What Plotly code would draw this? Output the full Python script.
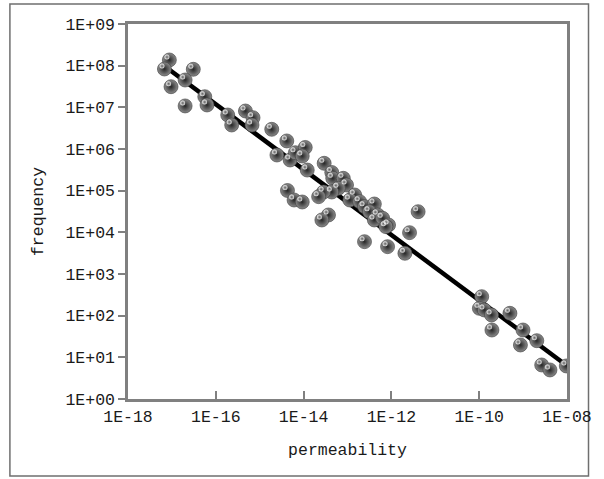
import plotly.graph_objects as go

# permeability (x) and frequency (y) of the measured points
permeability = [
    8.75e-18, 6.76e-18, 3.07e-17, 2.0e-17, 9.55e-18, 2.0e-17, 5.61e-17, 6.31e-17,
    1.87e-16, 2.30e-16, 4.73e-16, 7.05e-16, 6.68e-16, 1.88e-15, 4.14e-15, 2.47e-15,
    4.93e-15, 6.49e-15, 1.09e-14, 9.31e-15, 1.21e-14, 2.94e-14, 4.38e-14, 4.61e-14,
    8.02e-14, 9.51e-14, 6.18e-14, 4.38e-14, 2.85e-14, 2.20e-14, 4.29e-15, 6.07e-15,
    9.31e-15, 1.46e-13, 1.13e-13, 1.89e-13, 2.44e-13, 4.09e-13, 3.16e-13, 4.88e-13,
    4.09e-13, 6.31e-13, 8.61e-13, 7.48e-13, 3.69e-14, 2.61e-14, 2.44e-13, 8.18e-13,
    2.03e-12, 2.59e-12, 4.06e-12,
    1.14e-10, 1.01e-10, 1.31e-10, 1.91e-10, 5.01e-10, 1.95e-10, 9.95e-10, 8.69e-10,
    2.05e-09, 2.65e-09, 4.09e-09, 9.64e-09,
]
frequency = [
    1.37e8, 8.32e7, 8.18e7, 4.53e7, 3.13e7, 1.08e7, 1.80e7, 1.14e7,
    6.55e6, 3.77e6, 8.17e6, 5.64e6, 3.77e6, 2.97e6, 1.56e6, 7.18e5,
    5.45e5, 8.15e5, 1.09e6, 6.79e5, 3.13e5, 4.54e5, 2.73e5, 1.98e5,
    1.98e5, 1.37e5, 1.14e5, 9.29e4, 9.29e4, 7.18e4, 1.01e5, 5.97e4,
    5.35e4, 7.87e4, 5.97e4, 5.45e4, 4.13e4, 4.79e4, 3.13e4, 2.61e4,
    1.98e4, 2.17e4, 1.50e4, 1.37e4, 2.61e4, 1.98e4, 5.97e3, 4.53e3,
    3.14e3, 9.82e3, 3.13e4,
    286, 150, 137, 104, 114, 45.3, 45.3, 19.8,
    25.1, 6.56, 4.98, 6.21,
]

# fitted power-law line end points
fit_x = [7.9e-18, 1.0e-08]
fit_y = [8.7e7, 6.3]

x_tickvals = [1e-18, 1e-16, 1e-14, 1e-12, 1e-10, 1e-08]
x_ticktext = ["1E-18", "1E-16", "1E-14", "1E-12", "1E-10", "1E-08"]
y_tickvals = [1e0, 1e1, 1e2, 1e3, 1e4, 1e5, 1e6, 1e7, 1e8, 1e9]
y_ticktext = ["1E+00", "1E+01", "1E+02", "1E+03", "1E+04", "1E+05",
              "1E+06", "1E+07", "1E+08", "1E+09"]

FONT = "Liberation Mono, Courier New, monospace"
AXIS_GREY = "#808080"
TEXT = "#1a1a1a"

# sphere highlight: shift a small bright dot up-left of each sphere centre
# (about 3 px at this scale: 44.6 px per x-decade, 41.7 px per y-decade)
hx = [v * 10 ** (-2.5 / 44.6) for v in permeability]
hy = [v * 10 ** (3.0 / 41.7) for v in frequency]

fig = go.Figure()
fig.add_trace(go.Scatter(
    x=fit_x, y=fit_y, mode="lines",
    line=dict(color="black", width=4.5),
    showlegend=False, hoverinfo="skip",
))
fig.add_trace(go.Scatter(
    x=permeability, y=frequency, mode="markers",
    marker=dict(size=14, color="#8c8c8c",
                gradient=dict(type="radial", color="#262626"),
                line=dict(width=0.6, color="#3a3a3a")),
    showlegend=False,
))
fig.add_trace(go.Scatter(
    x=hx, y=hy, mode="markers",
    marker=dict(size=5, color="rgba(255,255,255,0.85)",
                gradient=dict(type="radial", color="rgba(255,255,255,0)"),
                line=dict(width=0)),
    showlegend=False, hoverinfo="skip",
))

fig.update_xaxes(
    type="log", range=[-18, -8],
    tickvals=x_tickvals, ticktext=x_ticktext,
    ticks="inside", ticklen=8, tickwidth=1.5, tickcolor=AXIS_GREY,
    showline=True, linecolor=AXIS_GREY, linewidth=2.5, mirror=True,
    showgrid=False, zeroline=False,
    tickfont=dict(family=FONT, size=16.5, color=TEXT),
    title=dict(text="permeability", font=dict(family=FONT, size=16.5, color=TEXT),
               standoff=18),
)
fig.update_yaxes(
    type="log", range=[0, 9],
    tickvals=y_tickvals, ticktext=y_ticktext,
    ticks="outside", ticklen=7, tickwidth=1.5, tickcolor=AXIS_GREY,
    showline=True, linecolor=AXIS_GREY, linewidth=2.5, mirror=True,
    showgrid=False, zeroline=False,
    tickfont=dict(family=FONT, size=16.5, color=TEXT),
    title=dict(text="frequency", font=dict(family=FONT, size=16.5, color=TEXT),
               standoff=18),
)

fig.update_layout(
    width=604, height=479,
    margin=dict(l=128, r=30, t=24, b=80),
    paper_bgcolor="white", plot_bgcolor="white",
    shapes=[dict(type="rect", xref="paper", yref="paper",
                 x0=-0.269, x1=1.049, y0=-0.2053, y1=1.0533,
                 line=dict(color="#6f6f6f", width=1.5), layer="below")],
)

fig.write_html("out.html",
               config={"displayModeBar": False},
               post_script="document.body.style.margin='0';document.body.style.overflow='hidden';")
